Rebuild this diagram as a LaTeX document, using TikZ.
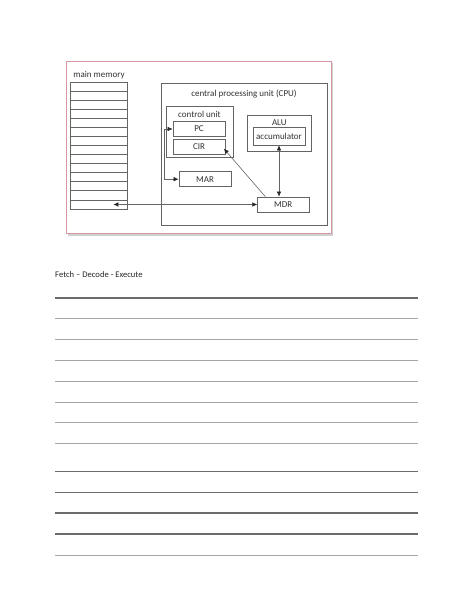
\documentclass[tikz,border=0pt]{standalone}
\usepackage{fontspec}
\setmainfont{Carlito}
\usetikzlibrary{
  arrows.meta
}
\definecolor{framepink}{RGB}{214,150,162}
\definecolor{boxgray}{RGB}{100,100,100}
\definecolor{textgray}{RGB}{50,50,50}

\begin{document}
\begin{tikzpicture}[
  >={Latex[length=5pt,width=4.5pt,color=black!85]},
  x=1pt, y=-1pt,
  box/.style={draw=boxgray, line width=0.75pt, inner sep=0pt},
  txt/.style={text=textgray, font=\fontsize{9}{10}\selectfont, inner sep=0pt},
  link/.style={draw=boxgray, line width=0.6pt},
  darkrule/.style={draw=black!58, line width=1.1pt},
  lightrule/.style={draw=black!35, line width=0.7pt},
]
\useasboundingbox (0,0) rectangle (474,613);
% frame with shadow
\fill[black!18] (68,63) rectangle (333,235.5);
\draw[framepink, fill=white, line width=0.8pt] (66,61) rectangle (331,233);
% main memory
\node[txt] (mem-label) at (99,75) {main memory};
\foreach \i in {1,...,14}
  \node[box, minimum width=57pt, minimum height=9.07pt] (mem-\i) at (98.5,{82+(\i-0.5)*9.07}) {};
% cpu
\node[box, minimum width=166pt, minimum height=142pt] (cpu) at (244,154.7) {};
\node[txt] (cpu-label) at (244,93.5) {central processing unit (CPU)};
\node[box, minimum width=67pt, minimum height=51pt] (cu) at (199.5,132.2) {};
\node[txt] (cu-label) at (199.5,114) {control unit};
\node[box, minimum width=52pt, minimum height=14.6pt] (pc) at (199,129) {};
\node[txt] at (pc) {PC};
\node[box, minimum width=52pt, minimum height=15.3pt] (cir) at (199,146.7) {};
\node[txt] at (cir) {CIR};
\node[box, minimum width=63.3pt, minimum height=36.7pt] (alu) at (279.3,133.3) {};
\node[txt] (alu-label) at (279.3,122.5) {ALU};
\node[box, minimum width=52pt, minimum height=17.3pt] (acc) at (279,136.3) {};
\node[txt] at (acc) {accumulator};
\node[box, minimum width=52pt, minimum height=15pt] (mar) at (205,179.2) {};
\node[txt] at (mar) {MAR};
\node[box, minimum width=51.3pt, minimum height=15pt] (mdr) at (283.3,204.5) {};
\node[txt] at (mdr) {MDR};
% connectors
\draw[link,<->] (pc.west) -- ++(-8.7,0) |- (mar.west);
\draw[link,->] ([xshift=-18pt]mdr.north) -- ([xshift=-1.5pt,yshift=-2pt]cir.east);
\draw[link,<->] (acc.south) -- (acc.south |- mdr.north);
\draw[link,<->] ([xshift=-14pt]mem-14.east) -- (mdr.west);
% worksheet
\node[text=black!85, font=\fontsize{8.6}{10}\selectfont, anchor=west, inner sep=0pt] (title) at (55,275) {Fetch – Decode - Execute};
\foreach \y in {298,471.5,492.5,513,534}
  \draw[darkrule] (55,\y) -- (418,\y);
\foreach \y in {318.5,339,360,381,402,422.5,443,555}
  \draw[lightrule] (55,\y) -- (418,\y);
\end{tikzpicture}
\end{document}
